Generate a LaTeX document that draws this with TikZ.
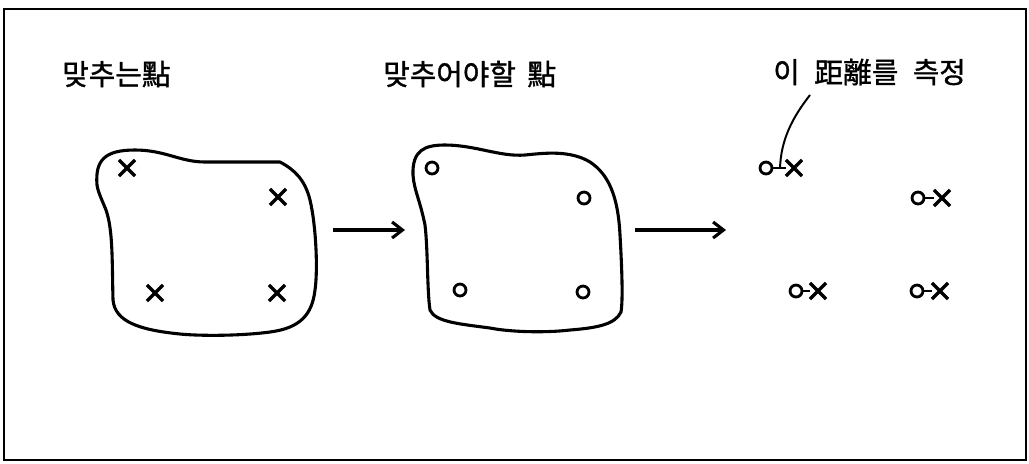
\documentclass[tikz,border=0pt]{standalone}
\usepackage{fontspec}
\newfontfamily\krfont[FakeBold=1.2]{Noto Sans CJK KR}
\usetikzlibrary{arrows.meta, shapes.misc}

\begin{document}
\begin{tikzpicture}[
  x=0.025cm, y=-0.025cm,
  >={Straight Barb[length=2.6mm, width=4mm]},
  blob/.style={draw=black, line width=2.2pt, line join=round},
  arr/.style={->, line width=2.2pt},
  lbl/.style={font=\krfont\fontsize{20.5}{24}\selectfont, anchor=west, inner sep=0pt},
  xmark/.style={cross out, draw, line width=2.4pt, minimum size=9pt, inner sep=0pt},
  omark/.style={circle, draw, line width=2pt, minimum size=8.5pt, inner sep=0pt},
  link/.style={line width=2pt},
]

% Background
\useasboundingbox (0,0) rectangle (1029,463);
\draw[line width=1.4pt] (4,9) rectangle (1026,460);

% Labels
\node[lbl] (lbl-fit) at (62,74) {맞추는點};
\node[lbl] (lbl-target) at (383,74) {맞추어야할\hspace{0.4em}點};
\node[lbl] (lbl-dist) at (773,72) {이\hspace{0.5em}距離를\hspace{0.5em}측정};

% =============================================
% LEFT: points to fit
% =============================================
\draw[blob] (97,185) .. controls (95,160) and (105,150) .. (135,150)
  .. controls (165,150) and (180,162) .. (205,162)
  -- (280,162)
  .. controls (295,170) and (305,180) .. (310,200)
  .. controls (316,225) and (318,270) .. (315,290)
  .. controls (312,315) and (300,328) .. (270,332)
  .. controls (240,336) and (200,336) .. (180,334)
  .. controls (140,330) and (115,322) .. (113,300)
  .. controls (112,260) and (113,230) .. (106,210)
  .. controls (102,200) and (98,192) .. (97,185) -- cycle;

\node[xmark] (p1) at (127,168) {};
\node[xmark] (p2) at (278,197) {};
\node[xmark] (p3) at (155,293) {};
\node[xmark] (p4) at (277,293) {};

% =============================================
% MIDDLE: points to be fitted
% =============================================
\draw[blob] (413,175) .. controls (412,150) and (425,145) .. (445,145)
  .. controls (475,145) and (500,157) .. (525,155)
  .. controls (545,153) and (570,150) .. (590,162)
  .. controls (608,174) and (618,195) .. (620,235)
  .. controls (622,270) and (623,300) .. (621,312)
  .. controls (615,325) and (595,328) .. (570,330)
  .. controls (545,333) and (510,332) .. (490,328)
  .. controls (460,324) and (435,322) .. (430,310)
  .. controls (427,290) and (428,250) .. (425,225)
  .. controls (420,200) and (414,190) .. (413,175) -- cycle;

\node[omark] (q1) at (432,168) {};
\node[omark] (q2) at (584,198) {};
\node[omark] (q3) at (460,290) {};
\node[omark] (q4) at (583,292) {};

% Arrows
\coordinate (a1s) at (333,230);
\coordinate (a1e) at (405,230);
\coordinate (a2s) at (635,230);
\coordinate (a2e) at (726,230);
\draw[arr] (a1s) -- (a1e);
\draw[arr] (a2s) -- (a2e);

% =============================================
% RIGHT: distances
% =============================================
\node[omark] (o1) at (766,168) {};
\node[xmark] (x1) at (794,168) {};
\node[omark] (o2) at (918,198) {};
\node[xmark] (x2) at (942,198) {};
\node[omark] (o3) at (796,291) {};
\node[xmark] (x3) at (818,291) {};
\node[omark] (o4) at (917,291) {};
\node[xmark] (x4) at (940,291) {};

\draw[link] (o1) -- (x1);
\draw[link] (o2) -- (x2);
\draw[link] (o3) -- (x3);
\draw[link] (o4) -- (x4);

% Leader
\coordinate (lead) at (780,168);
\coordinate (leadtop) at (810,95);
\draw[line width=1.4pt] (lead) .. controls (781,140) and (792,118) .. (leadtop);

\end{tikzpicture}
\end{document}
